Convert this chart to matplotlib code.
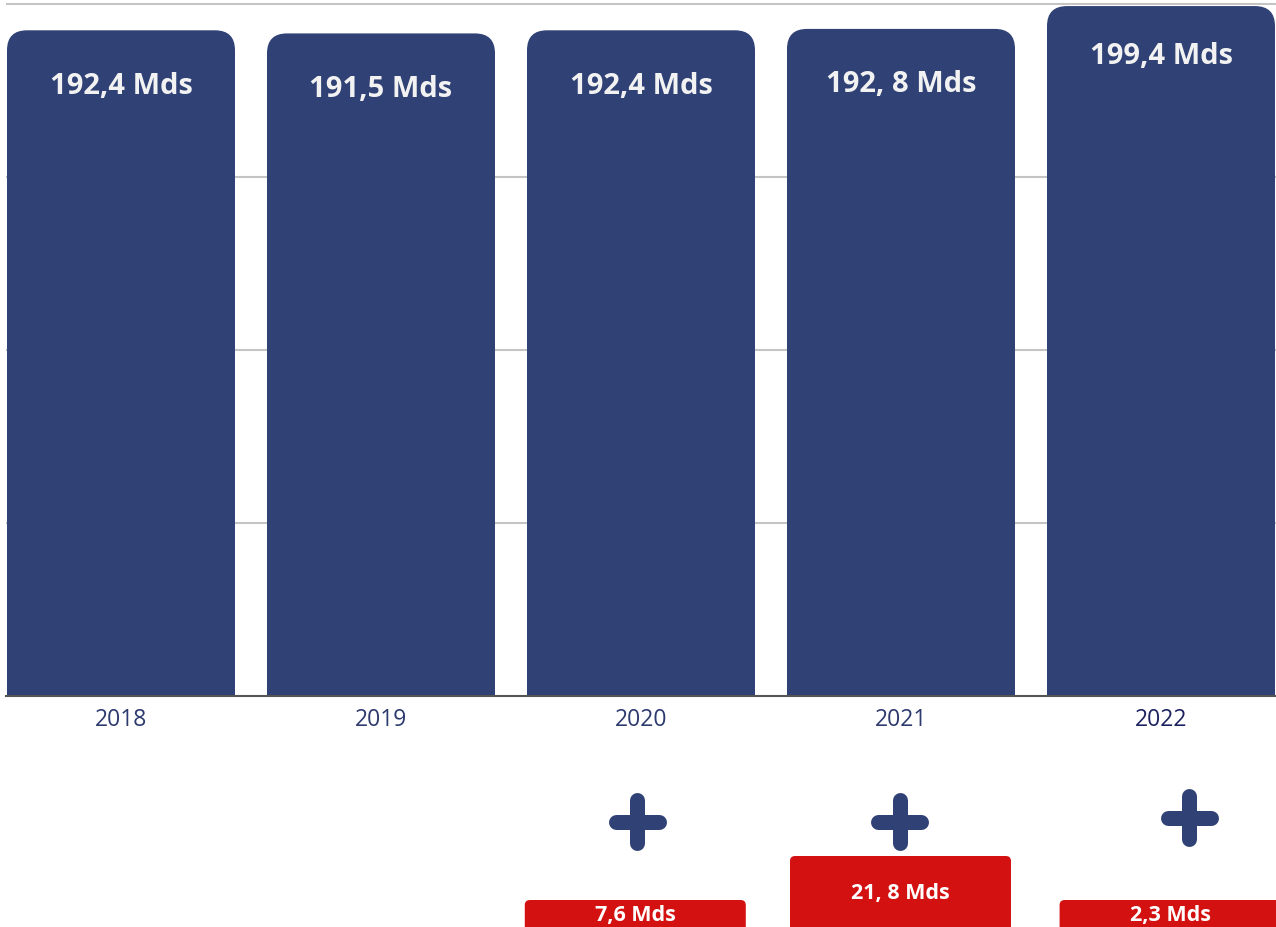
import matplotlib
matplotlib.use('Agg')
import matplotlib.pyplot as plt
from matplotlib.patches import FancyBboxPatch

plt.rcParams['font.family'] = ['Open Sans', 'DejaVu Sans']

# data
years = ['2018', '2019', '2020', '2021', '2022']
totals = [192.4, 191.5, 192.4, 192.8, 199.4]
total_labels = ['192,4 Mds', '191,5 Mds', '192,4 Mds', '192, 8 Mds', '199,4 Mds']
gain_idx = [2, 3, 4]
gain_labels = ['7,6 Mds', '21, 8 Mds', '2,3 Mds']

NAVY, RED, GRID, BASE = '#2f4175', '#d41111', '#c4c4c4', '#555555'
W, H = 1276, 928
label_drop = [15.9, 15.9, 15.9, 15.9, 14.2]  # label below bar top, data units
box_dx = [-0.022, -0.002, 0.035]            # red boxes / plus signs, px-ish layout
box_top = [27, 71, 27]
box_txt = [15, 37, 15]
plus_dx = [-0.015, -0.004, 0.108]
plus_y = [105.5, 105.5, 109.5]

fig = plt.figure(figsize=(W / 100, H / 100), dpi=100, facecolor='white')
top_px = 697 - 692 * 201 / 200
ax = fig.add_axes([6 / W, 1 - 697 / H, 1270 / W, (697 - top_px) / H])
xs = list(range(len(years)))
bars = ax.bar(xs, totals, width=228 / 260, color=NAVY)
# swap plain rectangles for top-rounded ones (bottom corners hidden below 0)
for b in bars:
    x0, w, h = b.get_x(), b.get_width(), b.get_height()
    b.remove()
    ax.add_patch(FancyBboxPatch((x0, -10), w, h + 10,
                                boxstyle='round,pad=0,rounding_size=0.077',
                                mutation_aspect=75, fc=NAVY, ec='none', zorder=2))
for i, (v, lab) in enumerate(zip(totals, total_labels)):
    ax.text(i, v - label_drop[i], lab, ha='center', va='center', color='#f2f2f2',
            fontsize=21, fontweight='bold', zorder=3)

ax.set_xlim(-0.4423, 4.4423)
ax.set_ylim(0, 201)
ax.set_yticks([50, 100, 150, 200])
ax.yaxis.grid(True, color=GRID, lw=1.5)
ax.set_axisbelow(True)
ax.tick_params(axis='y', length=0, labelleft=False)
ax.set_xticks(xs, years)
ax.tick_params(axis='x', length=0, pad=8, labelsize=16.5, labelcolor='#2d3a6e')
ax.get_xticklabels()[4].set_color('#1c2260')
for s in ['left', 'right', 'top']:
    ax.spines[s].set_visible(False)
ax.spines['bottom'].set_color(BASE)
ax.spines['bottom'].set_linewidth(1.5)
ax.spines['bottom'].set_zorder(4)

# lower strip: plus signs and red increments
ax2 = fig.add_axes([6 / W, 0, 1270 / W, 231 / H])
ax2.set_xlim(-0.4423, 4.4423)
ax2.set_ylim(0, 231)
ax2.axis('off')
arm_x, arm_y = 21.5 / 260, 21.5
for k, (i, lab) in enumerate(zip(gain_idx, gain_labels)):
    cx = i + box_dx[k]
    ax2.add_patch(FancyBboxPatch((cx - 0.425, -10), 0.85, box_top[k] + 10,
                                 boxstyle='round,pad=0,rounding_size=0.02',
                                 mutation_aspect=250, fc=RED, ec='none'))
    ax2.text(cx, box_top[k] - box_txt[k], lab, ha='center', va='center',
             color='white', fontsize=15.5, fontweight='bold')
    px = i + plus_dx[k]
    ax2.plot([px - arm_x, px + arm_x], [plus_y[k]] * 2, color=NAVY, lw=10.8,
             solid_capstyle='round')
    ax2.plot([px, px], [plus_y[k] - arm_y, plus_y[k] + arm_y], color=NAVY, lw=10.8,
             solid_capstyle='round')

fig.savefig('out.png', dpi=100, facecolor='white')
